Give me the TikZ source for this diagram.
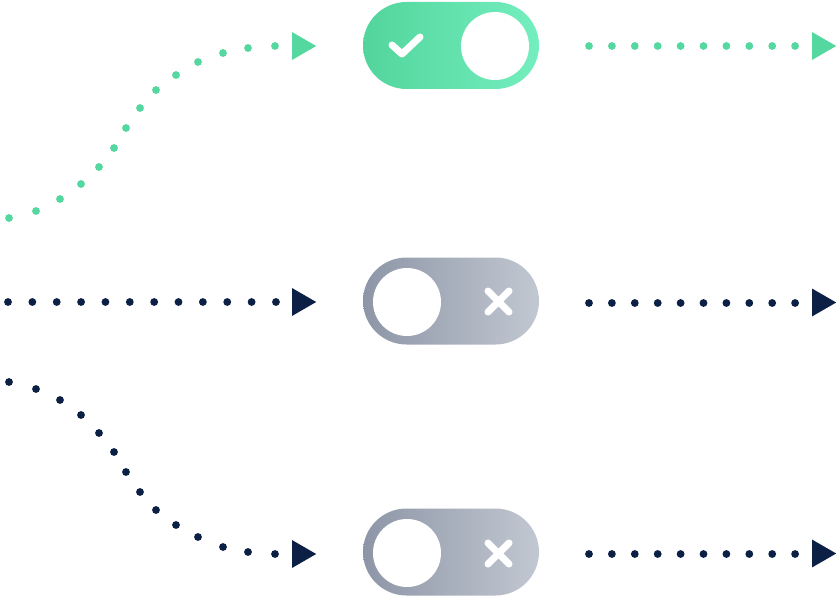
\documentclass[tikz,border=0pt]{standalone}
\usetikzlibrary{shapes.misc,shapes.geometric}
\definecolor{mint}{HTML}{55D7A0}
\definecolor{mintL}{HTML}{52D59C}
\definecolor{mintR}{HTML}{74EEBE}
\definecolor{navy}{HTML}{0C1F45}
\definecolor{grayL}{HTML}{8D96A7}
\definecolor{grayR}{HTML}{C2C8D1}
\tikzset{
  pill/.style={rounded rectangle, minimum width=176pt, minimum height=87pt, inner sep=0pt, draw=none},
  onpill/.style={pill, left color=mintL, right color=mintR},
  offpill/.style={pill, left color=grayL, right color=grayR},
  knob/.style={circle, fill=white, minimum size=68pt, inner sep=0pt, draw=none},
  glyph/.style={white, line width=7pt, line cap=round, line join=round},
  tiphead/.style={isosceles triangle, isosceles triangle apex angle=60, minimum height=24pt, minimum width=27pt, inner sep=0pt, anchor=west},
  gtip/.style={tiphead, fill=mint},
  ntip/.style={tiphead, fill=navy},
}
\begin{document}
\begin{tikzpicture}[x=1pt,y=-1pt]
\useasboundingbox (0,0) rectangle (836,599);
% toggles
\node[onpill] (t1) at (451,45.5) {};
\node[knob] (k1) at (495,46) {};
\draw[glyph] (392,45) -- (402,54) -- (420,37);
\node[offpill] (t2) at (451,301) {};
\node[knob] (k2) at (407,302) {};
\draw[glyph] (488,291) -- (509,312) (509,291) -- (488,312);
\node[offpill] (t3) at (451,552) {};
\node[knob] (k3) at (407,553) {};
\draw[glyph] (488,543) -- (509,564) (509,543) -- (488,564);
% arrowheads
\node[gtip] (a1) at (292,46) {};
\node[ntip] (a2) at (292,302) {};
\node[ntip] (a3) at (292,554) {};
\node[gtip] (b1) at (812,46) {};
\node[ntip] (b2) at (812,302.5) {};
\node[ntip] (b3) at (812,553.5) {};
% left dotted paths
\foreach \p in {(9,218),(36,211),(60,199),(81,184),(99,167),(114,148),(126,128),(140,108),(156,90),(176,75),(198,62),(223,53),(248,48),(275,46)}
  \fill[mint] \p circle (3.9);
\foreach \x in {0,...,11}
  \fill[navy] ({8+24.36*\x},302) circle (3.9);
\foreach \p in {(9,382),(36,389),(60,400),(81,415),(99,433),(114,452),(126,472),(140,492),(156,510),(176,525),(198,537),(223,547),(248,552),(275,554)}
  \fill[navy] \p circle (3.9);
% right dotted paths
\foreach \x in {0,...,9} {
  \fill[mint] ({589+22.9*\x},46) circle (3.9);
  \fill[navy] ({589+22.9*\x},303) circle (3.9);
  \fill[navy] ({589+22.9*\x},554) circle (3.9);
}
\end{tikzpicture}
\end{document}
